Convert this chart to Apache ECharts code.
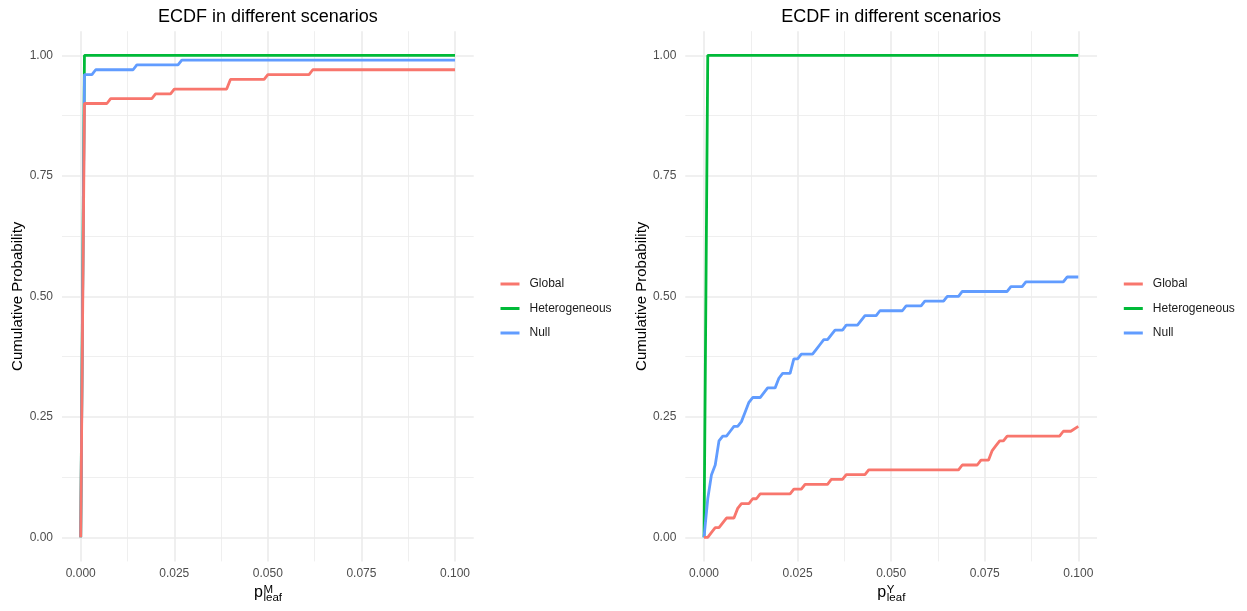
<!DOCTYPE html>
<html>
<head>
<meta charset="utf-8">
<script src="https://cdn.jsdelivr.net/npm/echarts@6/dist/echarts.min.js"></script>
<style>
  html, body { margin: 0; padding: 0; background: #fff; }
  #chart { width: 1247px; height: 611px; }
</style>
</head>
<body>
<div id="chart"></div>
<script>
// series names, colours (ggplot hue palette)
const seriesNames = ['Global', 'Heterogeneous', 'Null'];
const seriesColors = ['#F8766D', '#00BA38', '#619CFF'];

// tick values
const xMajor = [0, 0.025, 0.05, 0.075, 0.1];
const xMinor = [0.0125, 0.0375, 0.0625, 0.0875];
const yMajor = [0, 0.25, 0.5, 0.75, 1];
const yMinor = [0.125, 0.375, 0.625, 0.875];

// left panel (p_leaf^M): [x, ecdf]
const leftGlobal = [[0,0],[0.001,0.90],[0.007,0.90],[0.008,0.91],[0.019,0.91],[0.020,0.92],[0.024,0.92],[0.025,0.93],
  [0.039,0.93],[0.040,0.95],[0.049,0.95],[0.050,0.96],[0.061,0.96],[0.062,0.97],[0.100,0.97]];
const leftHetero = [[0,0],[0.001,1],[0.100,1]];
const leftNull = [[0,0],[0.001,0.96],[0.003,0.96],[0.004,0.97],[0.014,0.97],[0.015,0.98],[0.026,0.98],[0.027,0.99],[0.100,0.99]];

// right panel (p_leaf^Y)
const rightGlobal = [[0,0],[0.001,0],[0.002,0.01],[0.003,0.02],[0.004,0.02],[0.005,0.03],[0.006,0.04],[0.008,0.04],
  [0.009,0.06],[0.010,0.07],[0.012,0.07],[0.013,0.08],[0.014,0.08],[0.015,0.09],[0.023,0.09],[0.024,0.10],
  [0.026,0.10],[0.027,0.11],[0.033,0.11],[0.034,0.12],[0.037,0.12],[0.038,0.13],[0.043,0.13],[0.044,0.14],
  [0.068,0.14],[0.069,0.15],[0.073,0.15],[0.074,0.16],[0.076,0.16],[0.077,0.18],[0.078,0.19],[0.079,0.20],
  [0.080,0.20],[0.081,0.21],[0.095,0.21],[0.096,0.22],[0.098,0.22],[0.100,0.23]];
const rightHetero = [[0,0],[0.001,1],[0.100,1]];
const rightNull = [[0,0],[0.001,0.08],[0.002,0.13],[0.003,0.15],[0.004,0.20],[0.005,0.21],[0.006,0.21],[0.007,0.22],
  [0.008,0.23],[0.009,0.23],[0.010,0.24],[0.011,0.26],[0.012,0.28],[0.013,0.29],[0.015,0.29],[0.017,0.31],
  [0.019,0.31],[0.020,0.33],[0.021,0.34],[0.023,0.34],[0.024,0.37],[0.025,0.37],[0.026,0.38],[0.029,0.38],
  [0.030,0.39],[0.031,0.40],[0.032,0.41],[0.033,0.41],[0.034,0.42],[0.035,0.43],[0.037,0.43],[0.038,0.44],
  [0.041,0.44],[0.043,0.46],[0.046,0.46],[0.047,0.47],[0.053,0.47],[0.054,0.48],[0.058,0.48],[0.059,0.49],
  [0.064,0.49],[0.065,0.50],[0.068,0.50],[0.069,0.51],[0.081,0.51],[0.082,0.52],[0.085,0.52],[0.086,0.53],
  [0.096,0.53],[0.097,0.54],[0.100,0.54]];

const FONT = '"Liberation Sans", Arial, sans-serif';
const GRID_COLOR = '#EBEBEB';

const panels = [
  { left: 62, sup: 'M', data: [leftGlobal, leftHetero, leftNull] },
  { left: 685.3, sup: 'Y', data: [rightGlobal, rightHetero, rightNull] }
];
const panelW = 411.7, panelTop = 31.2, panelH = 530.2;

const grid = [], xAxis = [], yAxis = [], series = [], title = [], legend = [], graphic = [];

panels.forEach((p, i) => {
  grid.push({ left: p.left, top: panelTop, width: panelW, height: panelH, containLabel: false });

  const xBase = { gridIndex: i, type: 'value', min: -0.005, max: 0.105, axisLine: { show: false } };
  xAxis.push(Object.assign({}, xBase, {
    axisTick: { show: false, customValues: xMajor },
    axisLabel: { customValues: xMajor, formatter: v => v.toFixed(3), color: '#4D4D4D', fontSize: 12, fontFamily: FONT, margin: 6 },
    splitLine: { show: true, lineStyle: { color: GRID_COLOR, width: 1.6 } }
  }));
  xAxis.push(Object.assign({}, xBase, {
    position: 'bottom',
    axisTick: { show: false, customValues: xMinor },
    axisLabel: { show: false, customValues: xMinor },
    splitLine: { show: true, lineStyle: { color: GRID_COLOR, width: 0.8 } }
  }));

  const yBase = { gridIndex: i, type: 'value', min: -0.05, max: 1.05, axisLine: { show: false } };
  yAxis.push(Object.assign({}, yBase, {
    name: 'Cumulative Probability', nameLocation: 'middle', nameGap: 35, nameRotate: 90,
    nameTextStyle: { color: '#000', fontSize: 15, fontFamily: FONT },
    axisTick: { show: false, customValues: yMajor },
    axisLabel: { customValues: yMajor, formatter: v => v.toFixed(2), color: '#4D4D4D', fontSize: 12, fontFamily: FONT, margin: 9 },
    splitLine: { show: true, lineStyle: { color: GRID_COLOR, width: 1.6 } }
  }));
  yAxis.push(Object.assign({}, yBase, {
    position: 'left',
    axisTick: { show: false, customValues: yMinor },
    axisLabel: { show: false, customValues: yMinor },
    splitLine: { show: true, lineStyle: { color: GRID_COLOR, width: 0.8 } }
  }));

  // draw order: Heterogeneous, Null, Global on top
  [1, 2, 0].forEach(k => {
    series.push({
      name: seriesNames[k], type: 'line', xAxisIndex: i * 2, yAxisIndex: i * 2,
      data: p.data[k], showSymbol: false, symbol: 'none',
      lineStyle: { color: seriesColors[k], width: 2.8 }, itemStyle: { color: seriesColors[k] }
    });
  });

  title.push({
    text: 'ECDF in different scenarios', left: p.left + panelW / 2, top: 8, textAlign: 'center', padding: 0,
    textStyle: { color: '#000', fontSize: 18, fontWeight: 'normal', fontFamily: FONT }
  });

  legend.push({
    orient: 'vertical', left: p.left + 433.5, top: 273, itemWidth: 19, itemHeight: 3, itemGap: 12.5,
    icon: 'rect', data: seriesNames,
    textStyle: { color: '#1A1A1A', fontSize: 12, fontFamily: FONT, padding: [0, 0, 0, 5] }
  });

  // x axis title: p with stacked super/subscript
  const cx = p.left + 192;
  graphic.push(
    { type: 'text', left: cx, top: 585, style: { text: 'p', fontSize: 16, fontFamily: FONT, fill: '#000' } },
    { type: 'text', left: cx + 9.5, top: 584, style: { text: p.sup, fontSize: 11.5, fontFamily: FONT, fill: '#000' } },
    { type: 'text', left: cx + 9.5, top: 592, style: { text: 'leaf', fontSize: 11.5, fontFamily: FONT, fill: '#000' } }
  );
});

const chart = echarts.init(document.getElementById('chart'));
chart.setOption({
  animation: false,
  backgroundColor: '#fff',
  title, legend, grid, xAxis, yAxis, series, graphic
});
</script>
</body>
</html>
